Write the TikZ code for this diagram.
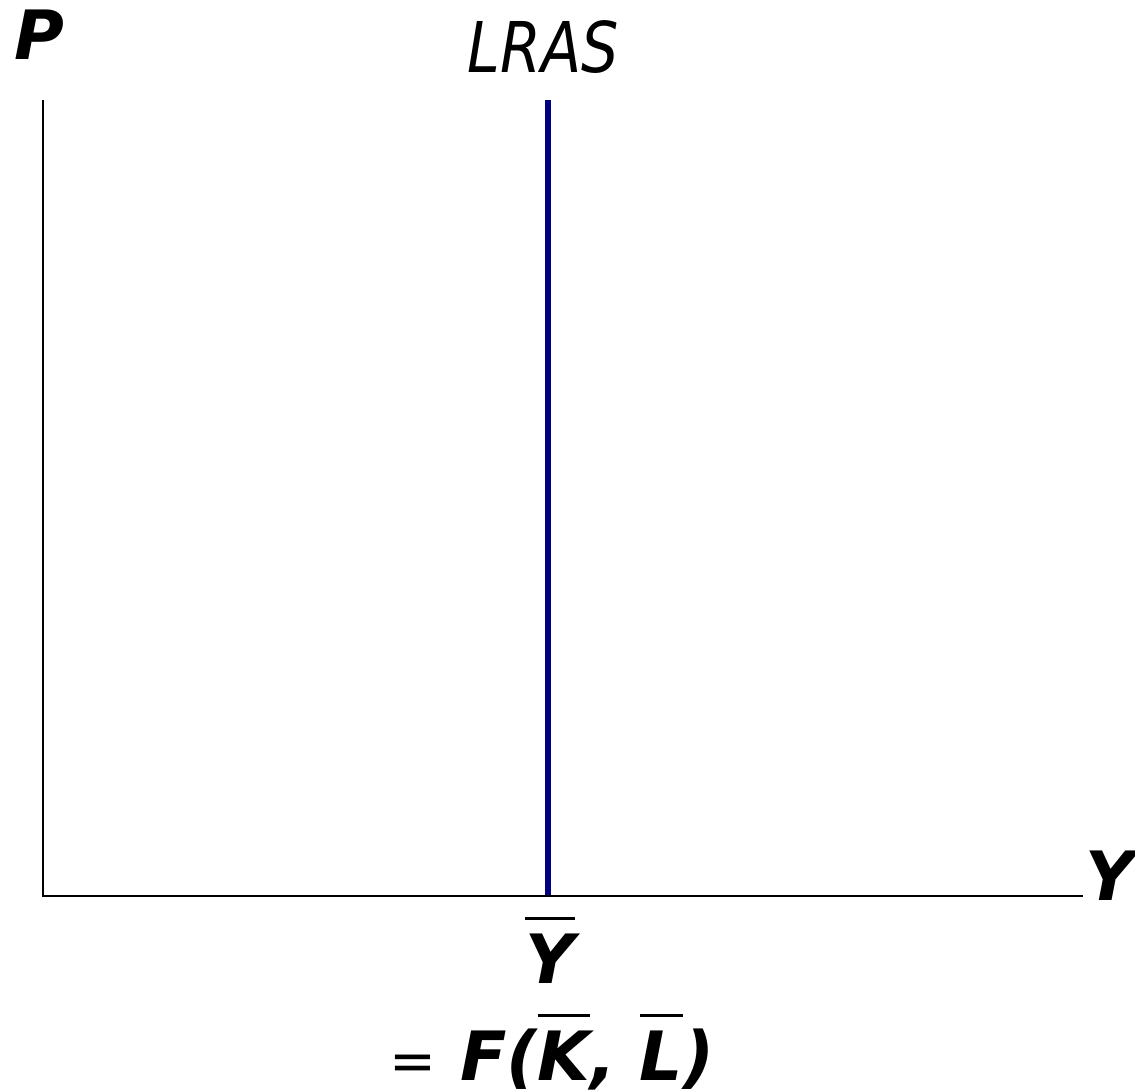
\documentclass[tikz,border=0pt]{standalone}
\usepackage{fontspec}
\setmainfont{DejaVu Sans}
\definecolor{lrasblue}{RGB}{0,0,128}
\newcommand\barred[1]{\vbox{\hrule height 3.5pt\kern 13pt\hbox{#1}}}
\newcommand\thineq{{\fontsize{56}{60}\selectfont\mdseries\upshape =}}
\begin{document}
\begin{tikzpicture}[x=1pt,y=-1pt,
  lbl/.style={font=\fontsize{68}{80}\selectfont\bfseries\itshape, inner sep=0pt},
  curvelbl/.style={font=\fontsize{70}{80}\selectfont\itshape, inner sep=0pt},
  axis/.style={line width=2.5pt, black},
  lrasline/.style={line width=6.5pt, lrasblue}]
\useasboundingbox (0,0) rectangle (1135,1092);
\coordinate (O) at (43,896);
\coordinate (ytop) at (43,100);
\coordinate (xend) at (1083,896);
\coordinate (ltop) at (548,100);
\coordinate (lbot) at (548,896);
\draw[lrasline] (ltop) -- (lbot);
\draw[axis] (ytop) -- (O) -- (xend);
\node[lbl, anchor=base] (P) at (39,59) {P};
\node[curvelbl, xscale=0.84, anchor=base] (lras) at (543,72) {LRAS};
\node[lbl, anchor=base] (Y) at (1110,900) {Y};
\node[lbl, anchor=base] (ybar) at (550,983) {\barred{Y}};
\node[lbl, anchor=base] (eq) at (552,1080) {\thineq\ F(\barred{K}, \barred{L})};
\end{tikzpicture}
\end{document}
